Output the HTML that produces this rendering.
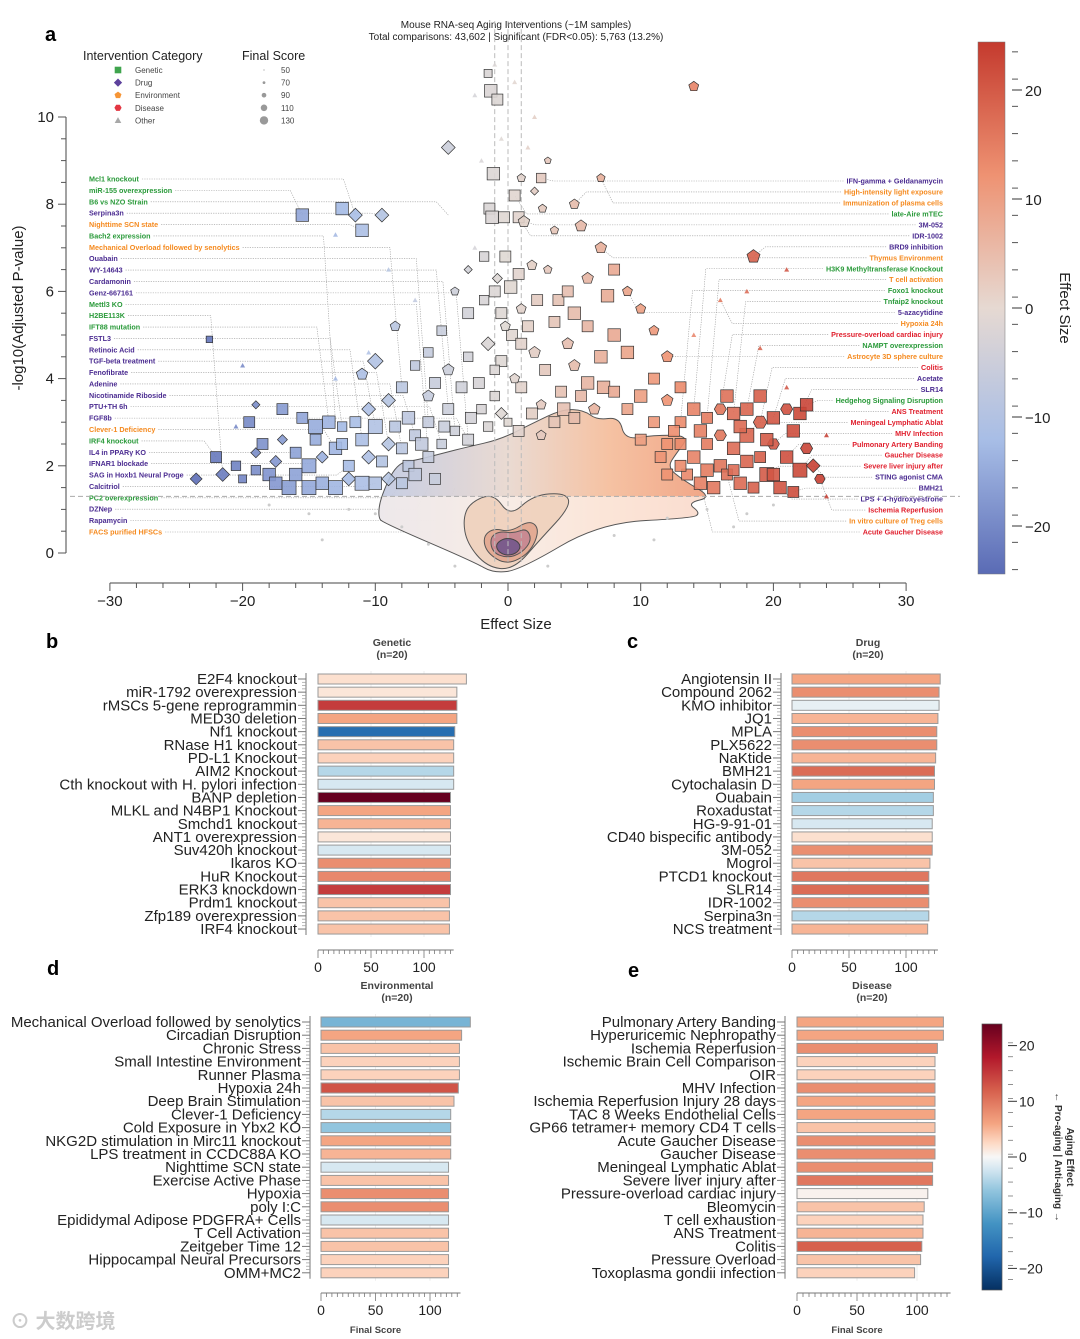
<!DOCTYPE html>
<html><head><meta charset="utf-8">
<style>
html,body{margin:0;padding:0;background:#fff;}
svg{display:block;font-family:"Liberation Sans","Noto Sans CJK SC",sans-serif;}
</style></head>
<body>
<svg id="root" width="1080" height="1339" viewBox="0 0 1080 1339" xmlns="http://www.w3.org/2000/svg">
<defs>
<linearGradient id="cwv" x1="0" y1="0" x2="0" y2="1">
<stop offset="0" stop-color="#c43a2e"/><stop offset="0.25" stop-color="#ee9272"/><stop offset="0.5" stop-color="#e6d9d2"/><stop offset="0.75" stop-color="#a7bde6"/><stop offset="1" stop-color="#5a6bb5"/>
</linearGradient>
<linearGradient id="rdbuv" x1="0" y1="0" x2="0" y2="1">
<stop offset="0" stop-color="#67001f"/><stop offset="0.125" stop-color="#b2182b"/><stop offset="0.25" stop-color="#d6604d"/><stop offset="0.375" stop-color="#f4a582"/><stop offset="0.45" stop-color="#fddbc7"/><stop offset="0.5" stop-color="#f7f7f7"/><stop offset="0.55" stop-color="#d1e5f0"/><stop offset="0.625" stop-color="#92c5de"/><stop offset="0.75" stop-color="#4393c3"/><stop offset="0.875" stop-color="#2166ac"/><stop offset="1" stop-color="#053061"/>
</linearGradient>
<linearGradient id="cloudgrad" x1="0" y1="0" x2="1" y2="0">
<stop offset="0" stop-color="#c3cbe2"/><stop offset="0.4" stop-color="#e9d8cf"/><stop offset="0.7" stop-color="#f5bf9e"/><stop offset="1" stop-color="#f0a282"/>
</linearGradient>
<clipPath id="outerClip"><path id="outerClipPath" d=""/></clipPath>
</defs>

<g>
<text x="516" y="28" font-size="10" text-anchor="middle" fill="#222">Mouse RNA-seq Aging Interventions (~1M samples)</text>
<text x="516" y="40" font-size="10" text-anchor="middle" fill="#222">Total comparisons: 43,602 | Significant (FDR&lt;0.05): 5,763 (13.2%)</text>
</g>
<text x="45" y="41" font-size="20" font-weight="bold">a</text>
<text x="46" y="648" font-size="20" font-weight="bold">b</text>
<text x="627" y="648" font-size="20" font-weight="bold">c</text>
<text x="47" y="975" font-size="20" font-weight="bold">d</text>
<text x="628" y="977" font-size="20" font-weight="bold">e</text>

<g id="volcano"></g>
<g id="bars"></g>
<text x="10" y="1328" font-size="20" fill="#ccc" font-weight="bold">⊙ 大数跨境</text>
</svg>
<script>
// ---------- Volcano data ----------
const catColors = {g:'#2a9a3a', d:'#4b2c91', e:'#f58a1f', s:'#e0202e', o:'#888'};
// points: [effect, -log10p, category, finalScore]
const volcanoPoints = [
[-22.5,4.9,'g',80],[-22,2.2,'g',110],[-21.5,1.8,'d',110],[-23.5,1.7,'d',100],[-20,1.7,'g',90],[-19,1.9,'g',100],[-18,1.8,'g',120],[-17.5,1.6,'g',120],[-16.5,1.5,'g',130],[-15,1.5,'g',130],[-14,1.6,'g',120],[-13,1.5,'g',130],[-12,1.7,'d',110],[-11,1.6,'g',130],[-10,1.6,'g',120],[-9,1.7,'d',110],[-8,1.6,'g',110],
[-19,2.3,'d',90],[-18.5,2.5,'g',110],[-17,2.6,'d',90],[-16,2.3,'g',110],[-15,2.0,'g',130],[-14,2.2,'d',100],[-13,2.4,'g',120],[-12,2.0,'g',110],[-11,2.6,'g',120],[-10,2.9,'g',130],[-9,2.5,'d',110],[-8,2.4,'g',110],[-7,2.7,'g',110],[-6,2.2,'g',110],[-5,2.5,'g',100],[-4,2.8,'g',100],[-3,2.6,'g',110],
[-19.5,3.0,'g',110],[-19,3.4,'d',80],[-17,3.3,'g',110],[-15.5,3.1,'g',110],[-14.5,2.9,'g',130],[-13.5,3.0,'g',120],[-12.5,2.9,'g',100],[-10.5,3.3,'d',110],[-9,3.5,'d',110],[-7.5,3.1,'g',120],[-6,3.0,'g',110],[-4.5,3.3,'g',110],[-8,3.8,'g',110],[-6,3.6,'e',110],
[-10,4.4,'d',120],[-11,4.1,'e',110],[-7,4.3,'g',100],[-6,4.6,'g',100],[-4.5,4.2,'e',110],[-8.5,5.2,'e',100],[-5,5.1,'g',100],[-3,4.5,'g',100],[-3,5.5,'g',110],[-4,6,'e',90],
[-15.5,7.75,'g',120],[-12.5,7.9,'g',120],[-11.5,7.75,'d',110],[-11,7.4,'g',120],[-9.5,7.75,'d',110],[-4.5,9.3,'d',110],
[-7,5.8,'o',70],[-9,6.5,'o',70],[-13,7.3,'o',70],[-20,4.3,'o',70],[-13,4.0,'o',70],[-10.5,4.6,'o',70],[-20.5,2.9,'o',70],
[-1.5,11,'g',90],[-1.3,10.6,'g',120],[-0.8,10.4,'g',110],[-1.1,8.7,'g',120],[-1.4,7.9,'g',110],[-1.2,7.7,'g',120],[-0.3,7.7,'g',110],[0.5,8.2,'g',110],[0.8,7.7,'g',110],[1.2,7.6,'e',110],[1,8.6,'e',90],[2.5,8.6,'g',100],[-1,6,'g',110],[0.2,6.1,'g',120],[-0.5,5.5,'g',110],[1,5.6,'e',100],[-1.5,4.8,'d',110],[0.3,5,'g',110],[1.5,5.2,'g',110],[-0.5,4.4,'g',110],[2,4.6,'e',110],[2.6,7.9,'e',90],[3,6.5,'e',90],
[-2,9,'o',70],[-0.5,9.5,'o',70],[1.5,9.3,'o',70],[2,10,'o',70],[-2.5,10.5,'o',70],[0.5,10.8,'o',70],[-1,11.2,'o',70],[3,9,'e',80],[2,8.3,'d',80],[-2.5,7,'o',70],[3.5,7.4,'e',90],[-3,6.5,'d',80],[-1,3.6,'g',100],[1,3.8,'g',110],[2.5,3.4,'e',100],[-2,3.3,'g',100],[0,3.0,'g',90],
[-1.8,6.8,'g',100],[-0.2,6.8,'g',110],[1.8,6.6,'e',100],[-0.8,6.3,'d',90],[0.8,6.4,'g',110],[-1.8,5.8,'g',100],[2.2,5.8,'g',110],[-0.2,5.2,'e',100],[1,4.8,'g',110],[-1,4.2,'g',100],[0.5,4.0,'e',100],[2.8,4.2,'g',110],[-2.2,3.9,'g',110],[1.8,3.2,'g',110],[-0.5,3.2,'d',100],[3.5,3.0,'g',110],[-1.5,2.9,'g',100],[0.8,2.8,'g',110],[2.5,2.7,'e',100],[-2.8,3.1,'g',110],[-3.5,3.8,'g',110],[4.5,4.8,'e',110],[3.8,5.8,'g',110],[4.2,3.3,'g',120],[5.5,3.6,'g',110],[6.5,3.3,'e',110],[7.2,3.8,'g',120],[5,3.1,'g',110],
[-5.5,3.9,'g',110],[-4.8,2.9,'g',110],[-6.5,2.5,'g',120],[-7.5,2.0,'g',110],[-9.5,2.1,'g',110],[-10.5,2.2,'d',110],[-12.5,2.5,'g',110],[-14.5,2.6,'g',110],[-16,1.8,'g',120],[-17.5,2.1,'d',100],[-20.5,2.0,'g',100],[-11.5,3.0,'g',110],[-8.5,2.9,'g',110],[-5.5,1.7,'g',110],[-7,1.8,'g',120],
[14,10.7,'e',100],[5,8,'e',100],[7,8.6,'e',90],[5.5,7.5,'e',110],[7,7,'e',110],[8,6.5,'g',110],[6,6.3,'e',110],[4.5,6.0,'g',110],[9,6,'e',100],[7.5,5.9,'g',120],[10,5.6,'e',100],[5,5.5,'g',120],[3.5,5.3,'g',110],[6,5.2,'g',110],[8,5.0,'g',120],[11,5.1,'e',100],[12,4.5,'e',110],[9,4.6,'g',120],[7,4.5,'g',120],[5,4.3,'e',110],[11,4.0,'g',110],[13,3.8,'g',110],[10,3.6,'g',120],[12,3.5,'e',110],[4,3.7,'g',110],[6,3.9,'g',120],[8,3.7,'g',110],[9,3.3,'g',110],
[18.5,6.8,'e',120],[16,5.8,'o',70],[21,6.5,'o',70],[18,6,'o',70],[14,5,'o',70],[19,4.7,'o',70],
[13,3.0,'g',110],[14,3.3,'g',120],[15,3.1,'g',110],[16,3.3,'s',110],[17,3.2,'g',120],[18,3.3,'g',120],[19,3.0,'s',120],[20,3.1,'g',120],[21,3.3,'s',110],[22,3.2,'g',120],[22.5,3.4,'g',120],
[13,2.5,'g',110],[14,2.2,'g',120],[15,2.5,'g',110],[16,2.0,'g',120],[17,2.4,'g',120],[18,2.7,'g',130],[19,2.2,'g',110],[20,2.5,'s',110],[21,2.2,'g',120],[22,1.9,'g',130],[23,2.0,'d',110],
[13.5,1.8,'g',110],[14.5,1.6,'g',120],[15.5,1.5,'g',120],[16.5,1.8,'g',110],[17.5,1.6,'g',120],[18.5,1.5,'g',110],[19.5,1.8,'g',130],[20.5,1.5,'g',120],[21.5,1.4,'g',110],[23.5,1.7,'s',100],[12,1.8,'g',110],[11.5,2.2,'g',110],
[12.5,2.8,'g',110],[14.5,2.8,'g',120],[16,2.7,'s',110],[17.5,2.9,'g',120],[19.5,2.6,'g',120],[21.5,2.8,'g',120],[15,1.9,'g',120],[17,1.9,'g',110],[18,2.1,'g',120],[20,1.8,'g',120],[22.5,2.4,'s',110],[13,2.0,'g',110],[12,2.5,'g',110],[11,3.0,'g',110],[10,2.6,'g',110],[16.5,3.6,'g',120],[19,3.6,'g',120],
[24,1.3,'o',70],[24,2.7,'o',70],[21,3.8,'o',70]
];
// density contours in data coords [effect, -log10p]
const contourOuter = [[-9.8,0.83],[-9.6,1.28],[-8.4,2.06],[-6.9,2.13],[-4.9,2.29],[-3.1,2.43],[-0.6,2.6],[1.9,2.98],[4.1,3.3],[5.7,3.28],[6.7,3.05],[8.4,3.12],[8.8,2.6],[10.9,2.7],[13.7,2.7],[12.7,2.29],[12.0,1.97],[13.2,1.67],[15.4,1.28],[13.5,1.15],[14.5,0.92],[13.9,0.8],[6.9,0.69],[0.9,-0.39],[-1.1,-0.46],[-2.6,-0.2],[-9.4,0.69]];
const contourHeart = [[-3.4,0.76],[-2.9,1.15],[-1.1,1.38],[0.15,0.83],[1.9,1.33],[4.4,1.38],[4.7,1.06],[2.4,0.3],[0.4,-0.39],[-1.6,-0.32],[-3.1,0.23]];
const contourMid = [[-1.9,0.37],[-1.1,0.57],[0.15,0.48],[1.65,0.76],[2.4,0.53],[1.65,0],[-0.08,-0.28],[-1.6,0]];
const contourInner = [[-1.35,0.37],[-0.6,0.5],[0.4,0.45],[1.4,0.57],[1.8,0.3],[1.05,0],[-0.08,-0.12],[-1.2,0.02]];
const contourCore = [[-0.9,0.22],[-0.2,0.35],[0.6,0.3],[1.0,0.15],[0.6,-0.02],[-0.2,-0.06],[-0.8,0.05]];
const leftLabels = [['Mcl1 knockout','g',-11.5,7.75],['miR-155 overexpression','g',-15.5,7.75],['B6 vs NZO Strain','g',-4.5,7.75],['Serpina3n','d',-9.5,7.75],['Nighttime SCN state','e',-11,7.4],['Bach2 expression','g',-13,3.0],['Mechanical Overload followed by senolytics','e',-8,3.8],['Ouabain','d',-6,3.0],['WY-14643','d',-4.5,3.3],['Cardamonin','d',-4,2.8],['Genz-667161','d',-3,2.6],['Mettl3 KO','g',-6,2.2],['H2BE113K','g',-21.5,1.8],['IFT88 mutation','g',-13.5,3.0],['FSTL3','d',-12.5,2.9],['Retinoic Acid','d',-11,2.6],['TGF-beta treatment','d',-10,2.9],['Fenofibrate','d',-9,2.5],['Adenine','d',-8,2.4],['Nicotinamide Riboside','d',-7,2.7],['PTU+TH 6h','d',-5,2.5],['FGF8b','d',-3,2.6],['Clever-1 Deficiency','e',-13,2.4],['IRF4 knockout','g',-22,2.2],['IL4 in PPARγ KO','d',-16,2.3],['IFNAR1 blockade','d',-14,2.2],['SAG in Hoxb1 Neural Proge','d',-12,2.0],['Calcitriol','d',-10,1.6],['PC2 overexpression','g',-8,1.6],['DZNep','d',-6,1.5],['Rapamycin','d',-4,1.5],['FACS purified HFSCs','e',-2,1.4]];
const rightLabels = [['IFN-gamma + Geldanamycin','d',2.5,8.6],['High-intensity light exposure','e',5,8],['Immunization of plasma cells','e',7,8.6],['late-Aire mTEC','g',0.5,8.2],['3M-052','d',1.2,7.6],['IDR-1002','d',0.8,7.7],['BRD9 inhibition','d',18.5,6.8],['Thymus Environment','e',7,7],['H3K9 Methyltransferase Knockout','g',14,3.3],['T cell activation','e',15,3.1],['Foxo1 knockout','g',13,3.0],['Tnfaip2 knockout','g',17,3.2],['5-azacytidine','d',9,6],['Hypoxia 24h','e',16,5.8],['Pressure-overload cardiac injury','s',16,3.3],['NAMPT overexpression','g',18,3.3],['Astrocyte 3D sphere culture','e',12,4.5],['Colitis','s',19,3.0],['Acetate','d',20,3.1],['SLR14','d',22,3.2],['Hedgehog Signaling Disruption','g',22.5,3.4],['ANS Treatment','s',21,3.3],['Meningeal Lymphatic Ablat','s',18,2.7],['MHV Infection','s',20,2.5],['Pulmonary Artery Banding','s',21,2.2],['Gaucher Disease','s',22,1.9],['Severe liver injury after','s',19.5,1.8],['STING agonist CMA','d',23,2.0],['BMH21','d',21.5,1.4],['LPS + 4-hydroxyestrone','d',20.5,1.5],['Ischemia Reperfusion','s',23.5,1.7],['In vitro culture of Treg cells','e',16.5,1.8],['Acute Gaucher Disease','s',14.5,1.6]];
const xTicks = [-30,-20,-10,0,10,20,30];
const yTicks = [0,2,4,6,8,10];
const cbTicks = [20,10,0,-10,-20];

// ---------- Bar data ----------
const geneticLabels = ['E2F4 knockout','miR-1792 overexpression','rMSCs 5-gene reprogrammin','MED30 deletion','Nf1 knockout','RNase H1 knockout','PD-L1 Knockout','AIM2 Knockout','Cth knockout with H. pylori infection','BANP depletion','MLKL and N4BP1 Knockout','Smchd1 knockout','ANT1 overexpression','Suv420h knockout','Ikaros KO','HuR Knockout','ERK3 knockdown','Prdm1 knockout','Zfp189 overexpression','IRF4 knockout'];
const geneticScores = [140,131,131,131,129,128,128,128,128,125,125,125,125,125,125,125,125,124,124,124];
const geneticEffects = [2,1.5,15,6,-17,4,3,-4,-2,24,6,5,1.5,-2,8,8.5,15,4,4,4];
const drugLabels = ['Angiotensin II','Compound 2062','KMO inhibitor','JQ1','MPLA','PLX5622','NaKtide','BMH21','Cytochalasin D','Ouabain','Roxadustat','HG-9-91-01','CD40 bispecific antibody','3M-052','Mogrol','PTCD1 knockout','SLR14','IDR-1002','Serpina3n','NCS treatment'];
const drugScores = [130,129,129,128,127,127,126,125,125,124,124,123,123,123,121,120,120,120,120,119];
const drugEffects = [6,8,-1,5,8,8,5,11,6,-5,-4,-2,2,8,4,10,11,8,-4,5];
const envLabels = ['Mechanical Overload followed by senolytics','Circadian Disruption','Chronic Stress','Small Intestine Environment','Runner Plasma','Hypoxia 24h','Deep Brain Stimulation','Clever-1 Deficiency','Cold Exposure in Ybx2 KO','NKG2D stimulation in Mirc11 knockout','LPS treatment in CCDC88A KO','Nighttime SCN state','Exercise Active Phase','Hypoxia','poly I:C','Epididymal Adipose PDGFRA+ Cells','T Cell Activation','Zeitgeber Time 12','Hippocampal Neural Precursors','OMM+MC2'];
const envScores = [137,129,127,127,127,126,122,119,119,119,119,117,117,117,117,117,117,117,117,117];
const envEffects = [-8,6,4,3,3,13,4,-4,-6,6,5,-2,4,8,8,-2,4,4,3,3];
const disLabels = ['Pulmonary Artery Banding','Hyperuricemic Nephropathy','Ischemia Reperfusion','Ischemic Brain Cell Comparison','OIR','MHV Infection','Ischemia Reperfusion Injury 28 days','TAC 8 Weeks Endothelial Cells','GP66 tetramer+ memory CD4 T cells','Acute Gaucher Disease','Gaucher Disease','Meningeal Lymphatic Ablat','Severe liver injury after','Pressure-overload cardiac injury','Bleomycin','T cell exhaustion','ANS Treatment','Colitis','Pressure Overload','Toxoplasma gondii infection'];
const disScores = [122,122,117,115,115,115,115,115,115,115,115,113,113,109,106,105,105,104,103,98];
const disEffects = [6,6,8,3,3,8,6,6,4,8,8,8,10,0.5,4,3,5,12,4,3];
const barTicks = [0,50,100];
const aeTicks = [20,10,0,-10,-20];

// ---------- helpers ----------
const NS='http://www.w3.org/2000/svg';
function mk(tag, attrs, parent){const e=document.createElementNS(NS,tag);for(const k in attrs)e.setAttribute(k,attrs[k]);if(parent)parent.appendChild(e);return e;}
function hex2rgb(h){return [parseInt(h.slice(1,3),16),parseInt(h.slice(3,5),16),parseInt(h.slice(5,7),16)];}
function interp(stops,t){t=Math.max(0,Math.min(1,t));for(let i=0;i<stops.length-1;i++){const [a,ca]=stops[i],[b,cb]=stops[i+1];if(t<=b){const f=(t-a)/(b-a);const A=hex2rgb(ca),B=hex2rgb(cb);return 'rgb('+A.map((v,j)=>Math.round(v+(B[j]-v)*f)).join(',')+')';}}return stops[stops.length-1][1];}
const cwStops=[[0,'#5a6bb5'],[0.25,'#a7bde6'],[0.5,'#e0d8d3'],[0.75,'#ee9272'],[1,'#c43a2e']];
const rdbuStops=[[0,'#053061'],[0.125,'#2166ac'],[0.25,'#4393c3'],[0.375,'#92c5de'],[0.45,'#d1e5f0'],[0.5,'#f7f7f7'],[0.55,'#fddbc7'],[0.625,'#f4a582'],[0.75,'#d6604d'],[0.875,'#b2182b'],[1,'#67001f']];
function cw(v){return interp(cwStops,(v+24)/48);}
function rdbu(v){return interp(rdbuStops,(v+24)/48);}

// ---------- Volcano ----------
const V=document.getElementById('volcano');
const X=v=>508+13.27*v;
const Y=v=>553-43.6*v;
function smoothPath(pts){const P=pts.map(p=>[X(p[0]),Y(p[1])]);const n=P.length;let d='M'+((P[0][0]+P[1][0])/2).toFixed(1)+','+((P[0][1]+P[1][1])/2).toFixed(1);for(let i=1;i<=n;i++){const c=P[i%n],nx=P[(i+1)%n];d+='Q'+c[0].toFixed(1)+','+c[1].toFixed(1)+' '+((c[0]+nx[0])/2).toFixed(1)+','+((c[1]+nx[1])/2).toFixed(1);}return d+'Z';}

// axes
const yAxis=mk('g',{},V);


mk('line',{x1:66,y1:Y(0),x2:66,y2:Y(10),stroke:'#444','stroke-width':1},yAxis);
for(let v=0;v<=10.01;v+=0.5){const major=yTicks.includes(Math.round(v*10)/10);mk('line',{x1:major?58:61,y1:Y(v),x2:66,y2:Y(v),stroke:'#555','stroke-width':1},yAxis);}
yTicks.forEach(t=>{const tx=mk('text',{x:54,y:Y(t)+5,'font-size':15,'text-anchor':'end',fill:'#222'},yAxis);tx.textContent=t;});
const yt=mk('text',{x:0,y:0,'font-size':15,'text-anchor':'middle',fill:'#222',transform:'translate(23,308) rotate(-90)'},V);yt.textContent='-log10(Adjusted P-value)';


const xAxis=mk('g',{},V);


mk('line',{x1:X(-30),y1:583,x2:X(30),y2:583,stroke:'#444','stroke-width':1},xAxis);
for(let v=-30;v<=30;v+=2){const major=xTicks.includes(v);mk('line',{x1:X(v),y1:583,x2:X(v),y2:major?591:588,stroke:'#555','stroke-width':1},xAxis);}
xTicks.forEach(t=>{const tx=mk('text',{x:X(t),y:606,'font-size':15,'text-anchor':'middle',fill:'#222'},xAxis);tx.textContent=t===0?'0':(t<0?'−'+(-t):t);});
const xtl=mk('text',{x:516,y:629,'font-size':15,'text-anchor':'middle',fill:'#222'},V);xtl.textContent='Effect Size';



const connG=mk('g',{},V);


const labG=mk('g',{},V);



// contours
const cont=mk('g',{},V);


const outerD=smoothPath(contourOuter);
document.getElementById('outerClipPath').setAttribute('d',outerD);
mk('path',{d:outerD,fill:'url(#cloudgrad)','fill-opacity':0.95,stroke:'none'},cont);
mk('rect',{x:300,y:Y(1.3),width:450,height:120,fill:'#fdf3ee','fill-opacity':0.7,'clip-path':'url(#outerClip)'},cont);
mk('path',{d:outerD,fill:'none',stroke:'#555','stroke-width':1},cont);
mk('path',{d:smoothPath(contourHeart),fill:'#edcdb6','fill-opacity':0.8,stroke:'#555','stroke-width':1},cont);
mk('path',{d:smoothPath(contourMid),fill:'#e3ab94',stroke:'#555','stroke-width':1},cont);
mk('path',{d:smoothPath(contourInner),fill:'#c98a92',stroke:'#555','stroke-width':1},cont);
mk('path',{d:smoothPath(contourCore),fill:'#7c5c8c',stroke:'#444','stroke-width':1},cont);

const thr=mk('line',{x1:70,y1:Y(1.3),x2:960,y2:Y(1.3),stroke:'#aaa','stroke-width':1,'stroke-dasharray':'5,3'},V);


[-1,0,1].forEach(v=>{mk('line',{x1:X(v),y1:Y(12.2),x2:X(v),y2:Y(-0.2),stroke:'#bbb','stroke-width':1,'stroke-dasharray':'5,3'},V);});

function marker(g,cat,cx,cy,r,fill){let e;const st={fill:fill,stroke:'#333','stroke-width':0.7,'fill-opacity':0.9};
 if(cat==='g'){e=mk('rect',Object.assign({x:cx-r,y:cy-r,width:2*r,height:2*r},st),g);}
 else if(cat==='d'){e=mk('polygon',Object.assign({points:`${cx},${cy-r*1.25} ${cx+r*1.25},${cy} ${cx},${cy+r*1.25} ${cx-r*1.25},${cy}`},st),g);}
 else if(cat==='e'){let p=[];for(let i=0;i<5;i++){const a=-Math.PI/2+i*2*Math.PI/5;p.push((cx+r*1.1*Math.cos(a)).toFixed(1)+','+(cy+r*1.1*Math.sin(a)).toFixed(1));}e=mk('polygon',Object.assign({points:p.join(' ')},st),g);}
 else if(cat==='s'){let p=[];for(let i=0;i<6;i++){const a=i*Math.PI/3;p.push((cx+r*1.1*Math.cos(a)).toFixed(1)+','+(cy+r*1.1*Math.sin(a)).toFixed(1));}e=mk('polygon',Object.assign({points:p.join(' ')},st),g);}
 else {e=mk('polygon',{points:`${cx},${cy-r} ${cx+r},${cy+r*0.8} ${cx-r},${cy+r*0.8}`,fill:fill,'fill-opacity':0.85,stroke:'none'},g);}
 return e;}
const sizeOf=s=>1+(s-50)/80*6;

const nsG=mk('g',{},V);


const nsPoints=[[-18,1.1],[-15,0.9],[-12,1.0],[-8,0.6],[-14,0.3],[-6,0.2],[8,0.4],[11,0.3],[15,1.0],[18,0.9],[20,1.1],[17,0.6],[3,-0.3],[-4,-0.3],[12,0.8],[-10,0.9]];
nsPoints.forEach(p=>{mk('circle',{cx:X(p[0]),cy:Y(p[1]),r:1.5,fill:'#ccc'},nsG);});

const ptsG=mk('g',{},V);


volcanoPoints.forEach(p=>{const m=marker(ptsG,p[2],X(p[0]),Y(p[1]),sizeOf(p[3]),cw(p[0]));
 
 });

function drawLabels(list,side){const n=list.length;const y0=side==='L'?179:181,y1=532;const step=(y1-y0)/(n-1);
 list.forEach((l,i)=>{const y=y0+i*step;const t=mk('text',{x:side==='L'?89:943,y:y+2.5,'font-size':7.2,'font-weight':'bold',fill:catColors[l[1]],'text-anchor':side==='L'?'start':'end'},labG);t.textContent=l[0];
 
 
 let w=l[0].length*4.2;try{w=t.getComputedTextLength();}catch(e){}
 const tx=X(l[2]),ty=Y(l[3]);
 if(side==='L'){const sx=89+w+3;const bx=Math.max(sx+5,tx-12);mk('polyline',{points:`${sx},${y} ${bx},${y} ${tx},${ty}`,fill:'none',stroke:'#999','stroke-width':0.6,'stroke-dasharray':'1.2,1.2'},connG);}
 else {const sx=943-w-3;const bx=Math.min(sx-5,tx+12);mk('polyline',{points:`${sx},${y} ${bx},${y} ${tx},${ty}`,fill:'none',stroke:'#999','stroke-width':0.6,'stroke-dasharray':'1.2,1.2'},connG);}
 });}
drawLabels(leftLabels,'L');drawLabels(rightLabels,'R');

// legend
const lg=mk('g',{},V);


let tt=mk('text',{x:83,y:60,'font-size':12.5,fill:'#222'},lg);tt.textContent='Intervention Category';
tt=mk('text',{x:242,y:60,'font-size':12.5,fill:'#222'},lg);tt.textContent='Final Score';
const legCats=[['g','Genetic','#2a9a3a'],['d','Drug','#4b2c91'],['e','Environment','#f58a1f'],['s','Disease','#e0202e'],['o','Other','#999']];
legCats.forEach((c,i)=>{const y=70+i*12.6;const m=marker(lg,c[0],118,y,3.3,c[2]);m.setAttribute('stroke','none');
 
 
 const t=mk('text',{x:135,y:y+3,'font-size':8,fill:'#444'},lg);t.textContent=c[1];});
const legScores=[50,70,90,110,130];
legScores.forEach((s,i)=>{const y=70+i*12.6;mk('circle',{cx:264,cy:y,r:Math.max(0.6,(s-40)/90*4.2),fill:'#999'},lg);const t=mk('text',{x:281,y:y+3,'font-size':8,fill:'#444'},lg);t.textContent=s;});

// colorbar
const cb=mk('g',{},V);


const CBY=v=>308-10.9*v;
mk('rect',{x:978,y:42,width:27,height:532,fill:'url(#cwv)',stroke:'#777','stroke-width':0.5},cb);
for(let v=-24;v<=24;v+=2.5){if(CBY(v)<44||CBY(v)>572)continue;mk('line',{x1:1012,y1:CBY(v),x2:1018,y2:CBY(v),stroke:'#555','stroke-width':1},cb);}
cbTicks.forEach(t=>{mk('line',{x1:1012,y1:CBY(t),x2:1022,y2:CBY(t),stroke:'#333','stroke-width':1},cb);const tx=mk('text',{x:1025,y:CBY(t)+6,'font-size':15,fill:'#222'},cb);tx.textContent=t<0?'−'+(-t):t;});
tt=mk('text',{x:0,y:0,'font-size':15,'text-anchor':'middle',fill:'#222',transform:'translate(1060,308) rotate(90)'},cb);tt.textContent='Effect Size';

// ---------- Bars ----------
const B=document.getElementById('bars');
function barPanel(name,title,labels,scores,effects,cfg){
 const g=mk('g',{},B);
 
 
 const XS=v=>cfg.x0+cfg.k*v;
 const n=labels.length;const rowY=i=>cfg.y0+i*cfg.step;
 barTicks.slice(1).forEach(t=>mk('line',{x1:XS(t),y1:rowY(0)-8,x2:XS(t),y2:rowY(n-1)+8,stroke:'#eee','stroke-width':1},g));
 let t1=mk('text',{x:cfg.tx,y:cfg.ty,'font-size':10.5,'font-weight':'bold','text-anchor':'middle',fill:'#444'},g);t1.textContent=title;
 t1=mk('text',{x:cfg.tx,y:cfg.ty+12,'font-size':10.5,'font-weight':'bold','text-anchor':'middle',fill:'#444'},g);t1.textContent='(n=20)';
 const rx=cfg.lx+9;
 mk('line',{x1:rx,y1:rowY(0)-6,x2:rx,y2:rowY(n-1)+6,stroke:'#777','stroke-width':1},g);
 for(let i=0;i<n;i++){mk('line',{x1:rx-8,y1:rowY(i),x2:rx,y2:rowY(i),stroke:'#777','stroke-width':1},g);
  for(let j=1;j<4;j++){const yy=rowY(i)+j*cfg.step/4;if(i<n-1)mk('line',{x1:rx-4,y1:yy,x2:rx,y2:yy,stroke:'#999','stroke-width':0.7},g);}
  const lt=mk('text',{x:cfg.lx,y:rowY(i)+5,'font-size':15,'text-anchor':'end',fill:'#222'},g);lt.textContent=labels[i];
  
  
  const r=mk('rect',{x:XS(0),y:rowY(i)-5,width:XS(scores[i])-XS(0),height:10,fill:rdbu(effects[i]),stroke:'#999','stroke-width':1},g);
  
  
 }
 mk('line',{x1:XS(0),y1:cfg.ay,x2:XS(128),y2:cfg.ay,stroke:'#777','stroke-width':1},g);
 for(let v=0;v<=125;v+=5){const major=barTicks.includes(v);mk('line',{x1:XS(v),y1:cfg.ay,x2:XS(v),y2:cfg.ay+(major?8:4),stroke:'#777','stroke-width':0.8},g);}
 barTicks.forEach(t=>{const tx=mk('text',{x:XS(t),y:cfg.ay+22,'font-size':14,'text-anchor':'middle',fill:'#222'},g);tx.textContent=t;});
 if(cfg.fs){const f=mk('text',{x:XS(50),y:cfg.ay+40,'font-size':9.5,'font-weight':'bold','text-anchor':'middle',fill:'#444'},g);f.textContent='Final Score';}
}
barPanel('panel-b-genetic','Genetic',geneticLabels,geneticScores,geneticEffects,{x0:318,k:1.06,y0:679,step:13.16,lx:297,tx:392,ty:646,ay:950,fs:false});
barPanel('panel-c-drug','Drug',drugLabels,drugScores,drugEffects,{x0:792,k:1.14,y0:679,step:13.16,lx:772,tx:868,ty:646,ay:950,fs:false});
barPanel('panel-d-environmental','Environmental',envLabels,envScores,envEffects,{x0:321,k:1.09,y0:1022,step:13.2,lx:301,tx:397,ty:989,ay:1293,fs:true});
barPanel('panel-e-disease','Disease',disLabels,disScores,disEffects,{x0:797,k:1.2,y0:1022,step:13.2,lx:776,tx:872,ty:989,ay:1293,fs:true});
const cb2=mk('g',{},B);


const AY=v=>1157-5.57*v;
mk('rect',{x:982,y:1024,width:20,height:266,fill:'url(#rdbuv)',stroke:'#555','stroke-width':0.7},cb2);
for(let v=-22;v<=22;v+=2.5){mk('line',{x1:1008,y1:AY(v),x2:1013,y2:AY(v),stroke:'#777','stroke-width':0.8},cb2);}
aeTicks.forEach(t=>{mk('line',{x1:1008,y1:AY(t),x2:1017,y2:AY(t),stroke:'#333','stroke-width':1},cb2);const tx=mk('text',{x:1019,y:AY(t)+5,'font-size':14,fill:'#222'},cb2);tx.textContent=t<0?'−'+(-t):t;});
tt=mk('text',{x:0,y:0,'font-size':10,'font-weight':'bold','text-anchor':'middle',fill:'#333',transform:'translate(1067,1157) rotate(90)'},cb2);tt.textContent='Aging Effect';
tt=mk('text',{x:0,y:0,'font-size':10,'font-weight':'bold','text-anchor':'middle',fill:'#333',transform:'translate(1055,1157) rotate(90)'},cb2);tt.textContent='← Pro-aging | Anti-aging →';
</script>
</body></html>
